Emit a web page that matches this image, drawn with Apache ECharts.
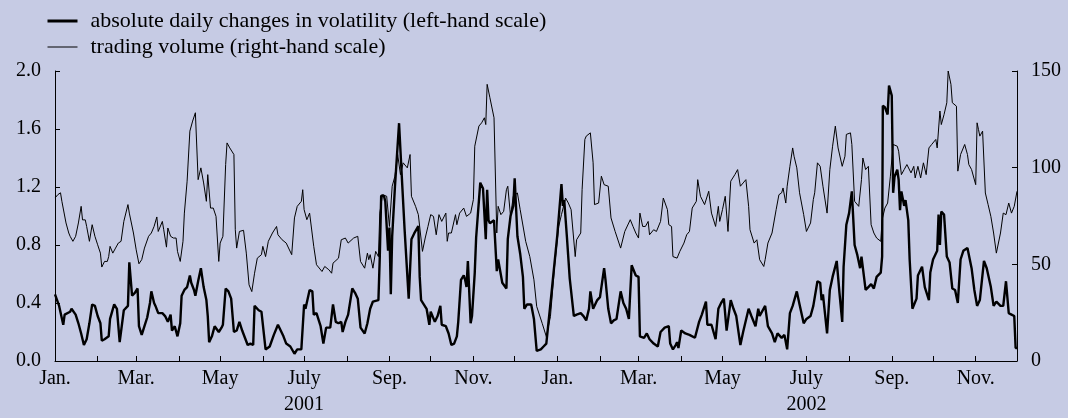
<!DOCTYPE html>
<html>
<head>
<meta charset="utf-8">
<script src="https://cdn.jsdelivr.net/npm/echarts@6/dist/echarts.min.js"></script>
<style>
html,body{margin:0;padding:0;background:#C6CBE4;}
#chart{width:1068px;height:418px;}
</style>
</head>
<body>
<div id="chart"></div>
<script>
// Days since 1 Jan 2001 and values
var volDays = [0,3,6,7,11,12,15,17,19,21,23,25,27,29,31,33,34,36,39,40,43,45,47,48,50,53,54,55,56,58,60,61,63,65,67,69,70,72,73,75,78,80,82,84,85,87,89,91,92,94,96,98,99,101,102,104,106,108,110,111,112,114,116,119,121,122,124,126,128,130,132,134,136,138,140,142,
144,145,148,150,151,153,156,159,162,164,166,168,171,174,176,179,181,182,185,187,188,190,193,195,197,200,202,204,206,208,209,211,213,216,218,220,222,225,227,229,231,235,236,237,239,240,242,243,244,245,247,250,251,252,254,257,259,261,264,265,266,270,272,273,276,278,
280,281,284,286,288,290,292,293,295,297,298,299,300,302,303,305,306,307,309,311,312,313,314,315,316,319,321,322,325,328,329,331,333,334,335,336,338,340,341,343,346,348,350,353,355,357,361,365,368,369,370,372,374,377,379,382,384,386,388,389,391,394,396,399,400,402,404,406,408,411,413,415,417,419,
422,424,425,428,430,432,435,438,440,443,446,447,449,451,452,453,455,458,461,465,468,470,473,474,477,480,482,484,486,488,491,493,495,498,500,504,506,509,511,512,516,518,521,523,525,528,530,532,534,536,539,541,544,546,549,551,554,556,557,558,561,
563,565,568,570,572,573,575,577,579,581,583,585,586,589,591,593,595,597,600,601,601.5,603,605,606,608,609,610,612,613,614,615,617,618,620,621,623,626,627,630,632,635,636,638,641,642,643,644,646,648,650,652,654,656,658,660,663,666,668,670,672,675,677,680,682,684,687,689,691,693,695,697,698,699];
var volValues = [0.46,0.38,0.25,0.32,0.34,0.36,0.32,0.26,0.19,0.11,0.15,0.26,0.39,0.38,0.31,0.26,0.14,0.15,0.17,0.29,0.39,0.36,0.13,0.13,0.35,0.38,0.68,0.67,0.45,0.47,0.50,0.24,0.18,0.24,0.30,0.40,0.48,0.40,0.38,0.33,0.33,0.31,0.27,0.32,0.21,0.24,0.17,0.26,0.45,0.49,0.51,0.59,0.54,0.49,0.45,0.55,0.64,0.51,0.42,0.31,0.13,0.17,0.24,0.20,0.23,0.25,0.50,0.48,0.43,0.20,0.21,0.27,0.21,0.16,0.11,0.12,
0.11,0.38,0.35,0.34,0.35,0.08,0.10,0.18,0.25,0.21,0.17,0.12,0.10,0.05,0.08,0.08,0.39,0.36,0.49,0.48,0.32,0.33,0.24,0.12,0.23,0.23,0.39,0.27,0.26,0.27,0.20,0.27,0.32,0.50,0.47,0.43,0.23,0.19,0.26,0.36,0.41,0.42,0.72,1.14,1.14,1.10,0.76,0.92,0.46,0.86,1.20,1.64,1.64,1.27,0.91,0.43,0.84,0.88,0.93,0.58,0.42,0.36,0.25,0.34,0.27,0.31,
0.38,0.25,0.24,0.19,0.11,0.12,0.17,0.27,0.56,0.59,0.56,0.51,0.69,0.26,0.31,0.61,0.85,0.86,1.23,1.19,1.19,0.84,1.18,0.97,0.95,0.97,0.62,0.70,0.54,0.50,0.84,1.00,1.07,1.26,1.25,0.86,0.74,0.58,0.36,0.39,0.39,0.29,0.07,0.08,0.10,0.12,0.49,0.87,1.22,1.07,1.11,0.85,0.57,0.31,0.32,0.33,0.31,0.28,0.36,0.48,0.36,0.42,0.44,0.64,0.56,0.36,0.26,0.28,0.29,0.48,0.40,0.36,0.29,0.66,
0.59,0.58,0.17,0.16,0.19,0.15,0.12,0.10,0.20,0.23,0.24,0.12,0.08,0.11,0.13,0.09,0.21,0.19,0.18,0.16,0.27,0.32,0.41,0.25,0.25,0.15,0.36,0.40,0.43,0.21,0.42,0.36,0.31,0.11,0.20,0.36,0.31,0.24,0.36,0.31,0.38,0.24,0.19,0.13,0.19,0.16,0.18,0.08,0.33,0.38,0.48,0.39,0.26,0.29,0.31,0.38,0.55,0.54,0.42,0.46,0.19,
0.49,0.58,0.69,0.47,0.27,0.65,0.94,1.02,1.17,0.80,0.73,0.64,0.72,0.49,0.51,0.53,0.50,0.58,0.61,0.72,1.76,1.75,1.70,1.90,1.83,1.16,1.27,1.32,1.25,1.04,1.17,1.07,1.11,0.97,0.70,0.36,0.43,0.59,0.65,0.51,0.42,0.61,0.70,0.76,1.01,0.80,1.03,1.01,0.72,0.68,0.50,0.49,0.40,0.70,0.76,0.78,0.64,0.49,0.38,0.42,0.69,0.64,0.51,0.38,0.41,0.38,0.38,0.55,0.33,0.32,0.31,0.09,0.09];

var tradeDays = [0,2,4,5,6,8,10,11,13,15,17,19,20,22,23,25,27,29,31,33,34,36,38,39,40,42,44,46,48,50,53,54,57,59,61,63,65,68,70,72,74,75,78,79,81,82,84,86,88,89,91,93,94,96,98,100,102,104,106,108,110,111,113,115,117,119,120,122,124,125,127,130,131,132,134,137,139,141,
143,145,147,150,151,153,155,158,161,162,165,168,172,174,176,179,180,181,183,185,188,190,194,196,199,201,202,206,208,211,213,217,220,222,225,227,228,229,231,233,235,236,238,241,243,245,247,249,251,253,256,258,259,262,264,267,269,271,273,275,277,279,
281,284,285,286,288,291,292,294,297,299,302,304,305,308,310,312,313,314,316,319,321,322,324,326,328,329,331,333,336,338,342,345,348,350,354,357,360,363,366,368,371,373,375,378,379,382,383,385,386,389,391,392,395,397,399,400,402,404,407,411,414,418,420,
422,424,425,427,429,431,432,435,437,440,442,445,446,448,449,452,454,457,459,461,463,466,467,469,472,475,477,480,482,483,485,487,489,491,494,496,498,500,502,504,505,508,510,512,515,516,518,521,524,526,528,529,531,532,534,536,537,539,541,544,546,549,551,552,554,556,558,561,
563,565,567,569,572,574,575,578,579,581,584,586,587,589,591,593,595,597,600,601,603,605,607,609,612,613,615,617,619,622,624,625,627,629,631,633,635,637,640,641,643,644,646,648,649,651,652,655,656,658,661,663,664,666,669,670,671,672,674,676,678,680,682,684,687,689,691,693,695,697,699];
var tradeValues = [84.3,86,87,82.6,81.7,71.4,66.2,64.5,61.9,64.5,71.4,80,73,73,69.6,61.9,70.5,64.5,60.1,55.8,48.6,51.5,51.5,54,59.3,55.8,58.4,61,61.9,72.2,80.9,76.5,66.2,57.5,50.3,52.4,58.4,64.5,66.2,69.6,74.5,67,72.2,67.9,58.9,68.8,64.5,63.6,63.6,56.7,51.5,61.9,76.5,93,118.9,124.1,128.4,93.8,99.9,92.1,82.6,96.4,79.1,79.1,74.8,51.5,61,64.5,101.6,112.8,110.2,106.8,67.9,58.4,67,67.6,55.8,39.4,
35.9,45.4,53.2,55,59.3,54,61.9,66.2,69.6,65.3,62.7,61,55,74,80,82.6,88.6,78.3,73.1,76.5,59.3,49.8,46.3,48.9,47.2,45.4,50.6,53.2,62.7,63.6,61,63.6,64.5,51.5,48,55.8,52.4,55,48,56.7,54,76.5,86,85.2,69.6,90.4,95.6,106.8,96.4,102.5,99.9,106.8,85.2,80,75.7,56.7,63.6,69.6,75.7,74.8,65.3,75.7,
72.2,76.5,61.9,66.2,66.2,75.7,70.5,76.5,79.1,74.8,76.5,83.5,111.1,121.5,123.2,125.8,122.3,143.1,136.2,125.8,66.2,80,75.7,77.4,88.6,90.4,74.8,85.2,86.9,78.3,61.9,54,42,28.2,19.5,12.6,23,48.9,69.6,75.7,84.3,81.7,78.3,54,62.7,66.2,88.6,114.6,116.3,118,102.5,80.9,81.7,95.6,91.2,90.4,90.4,74,67,58.4,67,73.1,69.6,
66.2,63.6,76.5,69.6,69.6,72.2,65.3,67.9,67,72.2,84.3,78.3,70.5,69.6,54,53.2,56.7,61,65.3,67,79.1,82.6,93.8,85.2,80.9,87.8,76.5,69.6,80,72.2,78.3,85.2,67,93,96.4,99,90.4,92.1,93.8,80,67.9,61,62.7,52.4,48.9,52.4,61,66.2,78.3,86,87,89.5,81.7,90.4,100.7,110.2,105.9,99.9,87,75.7,67,71.4,83.5,87,102.5,100.7,90.4,76.5,
99,111.1,121.5,110.2,100.7,105.9,117.2,118,112,82.6,80,93.8,105,99,100.7,70.5,66.2,63.6,61.9,73.1,79.1,81.7,95.6,112,111.1,108.5,96.4,99,101.6,97.3,100.7,94.7,100.7,94.7,102.5,96.4,110.2,112,114.6,110.2,129.3,122.3,127.5,133.6,150,143.1,133.6,131.8,98.2,106.8,112,106.8,101.6,99,91.2,123.2,119.8,116.3,118.9,86.9,80.9,74.8,66.2,55.8,66.2,76.5,75.7,81.7,76.5,80,87.8];

var monthNames = ['Jan.','Feb.','Mar.','Apr.','May','June','July','Aug.','Sep.','Oct.','Nov.','Dec.'];
var labelMonths = [0,2,4,6,8,10];
var years = [2001, 2002];
var seriesNames = ['absolute daily changes in volatility (left-hand scale)', 'trading volume (right-hand scale)'];

var DAY = 86400000;
var T0 = Date.UTC(2001, 0, 1);
var monthDays = [], monthInfo = {};
years.forEach(function (y) {
  for (var m = 0; m < 12; m++) {
    var d = Math.round((Date.UTC(y, m, 1) - T0) / DAY);
    if (d > 699) continue;
    monthDays.push(d);
    monthInfo[d] = {y: y, m: m};
  }
});
var labelDays = monthDays.filter(function (d) { return labelMonths.indexOf(monthInfo[d].m) >= 0; });

function pairs(xs, ys) { return xs.map(function (x, i) { return [x, ys[i]]; }); }

var font = 'Liberation Serif';
var chart = echarts.init(document.getElementById('chart'));
chart.setOption({
  backgroundColor: '#C6CBE4',
  animation: false,
  textStyle: {fontFamily: font, color: '#000'},
  legend: {
    orient: 'vertical', left: 41, top: 3, itemGap: 0,
    itemWidth: 30, itemHeight: 14,
    itemStyle: {opacity: 0, color: 'rgba(0,0,0,0)', borderWidth: 0},
    textStyle: {fontFamily: font, fontSize: 22, lineHeight: 26, color: '#000', padding: [0, 0, 0, 8]},
    data: [
      {name: seriesNames[0], lineStyle: {width: 3, color: '#000'}},
      {name: seriesNames[1], lineStyle: {width: 1, color: '#000'}}
    ]
  },
  grid: {left: 55, right: 51, top: 71, bottom: 57, containLabel: false},
  xAxis: {
    type: 'value', min: 0, max: 699,
    axisLine: {show: true, onZero: false, lineStyle: {color: '#000', width: 1}},
    splitLine: {show: false},
    axisTick: {show: true, inside: true, length: 5, customValues: monthDays, lineStyle: {color: '#000'}},
    axisLabel: {
      show: true, customValues: labelDays, margin: 5,
      fontFamily: font, fontSize: 20, color: '#000', lineHeight: 26,
      formatter: function (v) {
        var info = monthInfo[Math.round(v)];
        if (!info) return '';
        var s = monthNames[info.m];
        if (info.m === 6) s += '\n' + info.y;
        return s;
      }
    }
  },
  yAxis: [{
    type: 'value', min: 0, max: 2.0, interval: 0.4, position: 'left',
    axisLine: {show: true, lineStyle: {color: '#000'}},
    axisTick: {show: true, inside: true, length: 5, lineStyle: {color: '#000'}},
    splitLine: {show: false},
    axisLabel: {fontFamily: font, fontSize: 20, color: '#000', margin: 14,
      formatter: function (v) { return v.toFixed(1); }}
  }, {
    type: 'value', min: 0, max: 150, interval: 50, position: 'right',
    axisLine: {show: true, lineStyle: {color: '#000'}},
    axisTick: {show: true, inside: true, length: 5, lineStyle: {color: '#000'}},
    splitLine: {show: false},
    axisLabel: {fontFamily: font, fontSize: 20, color: '#000', margin: 14}
  }],
  series: [{
    name: seriesNames[0], type: 'line', yAxisIndex: 0,
    data: pairs(volDays, volValues),
    showSymbol: false, symbol: 'none',
    lineStyle: {color: '#000', width: 2.4},
    itemStyle: {color: '#000'}, z: 3
  }, {
    name: seriesNames[1], type: 'line', yAxisIndex: 1,
    data: pairs(tradeDays, tradeValues),
    showSymbol: false, symbol: 'none',
    lineStyle: {color: '#000', width: 1},
    itemStyle: {color: '#000'}, z: 2
  }]
});
</script>
</body>
</html>
